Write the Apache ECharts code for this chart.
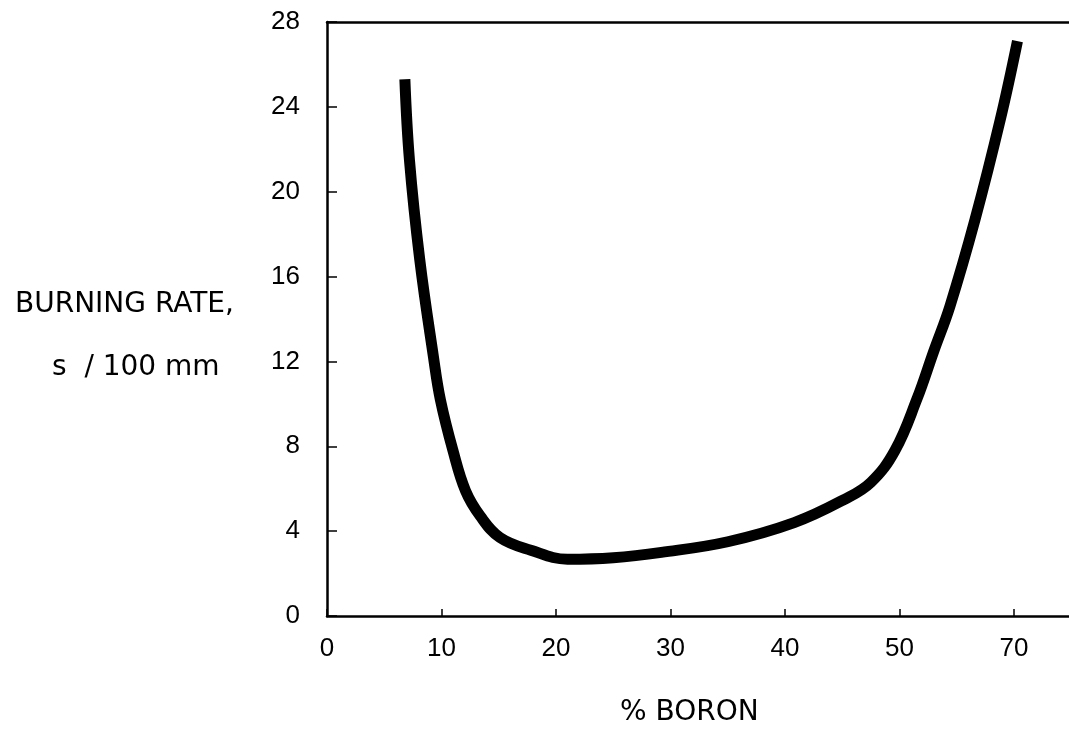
<!DOCTYPE html>
<html>
<head>
<meta charset="utf-8">
<script src="https://cdn.jsdelivr.net/npm/echarts@6/dist/echarts.min.js"></script>
<style>
  html, body { margin: 0; padding: 0; background: #fff; }
  #chart { width: 1069px; height: 737px; }
</style>
</head>
<body>
<div id="chart"></div>
<script>
// % boron (real values) and burning rate, s / 100 mm
var boron = [6.8, 7.2, 8.1, 9.3, 9.9, 11.0, 12.1, 13.4, 15.1, 17.8, 21.0, 25.0, 29.2, 35.0, 40.8, 45.2, 47.5, 49.6, 53.0, 56.0, 58.8, 63.2, 67.6, 70.6];
var rate  = [25.3, 21.5, 16.8, 12.2, 10.2, 7.8, 5.9, 4.7, 3.7, 3.1, 2.68, 2.75, 3.0, 3.5, 4.4, 5.5, 6.3, 7.8, 10.2, 12.5, 14.6, 18.7, 23.4, 27.1];
// x tick positions on the axis; the last one is labelled 70 (axis break)
var xTicks = [0, 10, 20, 30, 40, 50, 60];

// the x axis is broken: the step after 50 goes straight to 70
function toAxis(x) {
    return x <= 50 ? x : 50 + (x - 50) / 2;
}
function axisLabel(v) {
    return v == 60 ? '70' : String(v);
}

var data = [];
for (var i = 0; i < boron.length; i++) {
    data.push([toAxis(boron[i]), rate[i]]);
}

var numFont = 'Liberation Sans';
var txtFont = '28px "DejaVu Sans"';

var myChart = echarts.init(document.getElementById('chart'));
var option = {
    backgroundColor: '#fff',
    animation: false,
    grid: { left: 327, top: 22, right: 0, bottom: 121 },
    xAxis: [
        {
            type: 'value',
            min: 0,
            max: 64.8,
            interval: 10,
            axisLine: { lineStyle: { color: '#000', width: 2.5 } },
            axisTick: { inside: true, length: 7, customValues: xTicks, lineStyle: { color: '#000', width: 1.5 } },
            axisLabel: { color: '#000', fontFamily: numFont, fontSize: 26, margin: 20, customValues: xTicks, formatter: axisLabel },
            splitLine: { show: false }
        },
        {
            type: 'value',
            position: 'top',
            min: 0,
            max: 64.8,
            axisLine: { show: true, lineStyle: { color: '#000', width: 2.5 } },
            axisTick: { show: false },
            axisLabel: { show: false },
            splitLine: { show: false }
        }
    ],
    yAxis: {
        type: 'value',
        min: 0,
        max: 28,
        interval: 4,
        axisLine: { show: true, lineStyle: { color: '#000', width: 2.5 } },
        axisTick: { show: true, inside: true, length: 10, lineStyle: { color: '#000', width: 1.5 } },
        axisLabel: { color: '#000', fontFamily: numFont, fontSize: 26, margin: 27 },
        splitLine: { show: false }
    },
    graphic: [
        {
            type: 'text', x: 15, y: 305,
            style: { text: 'BURNING RATE,', fill: '#000', font: txtFont, verticalAlign: 'middle' }
        },
        {
            type: 'text', x: 52, y: 368,
            style: { text: 's  / 100 mm', fill: '#000', font: txtFont, verticalAlign: 'middle' }
        },
        {
            type: 'text', x: 620, y: 713,
            style: { text: '% BORON', fill: '#000', font: txtFont, verticalAlign: 'middle' }
        }
    ],
    series: [
        {
            type: 'line',
            data: data,
            smooth: 0.4,
            showSymbol: false,
            lineStyle: { color: '#000', width: 11 }
        }
    ]
};
myChart.setOption(option);
</script>
</body>
</html>
